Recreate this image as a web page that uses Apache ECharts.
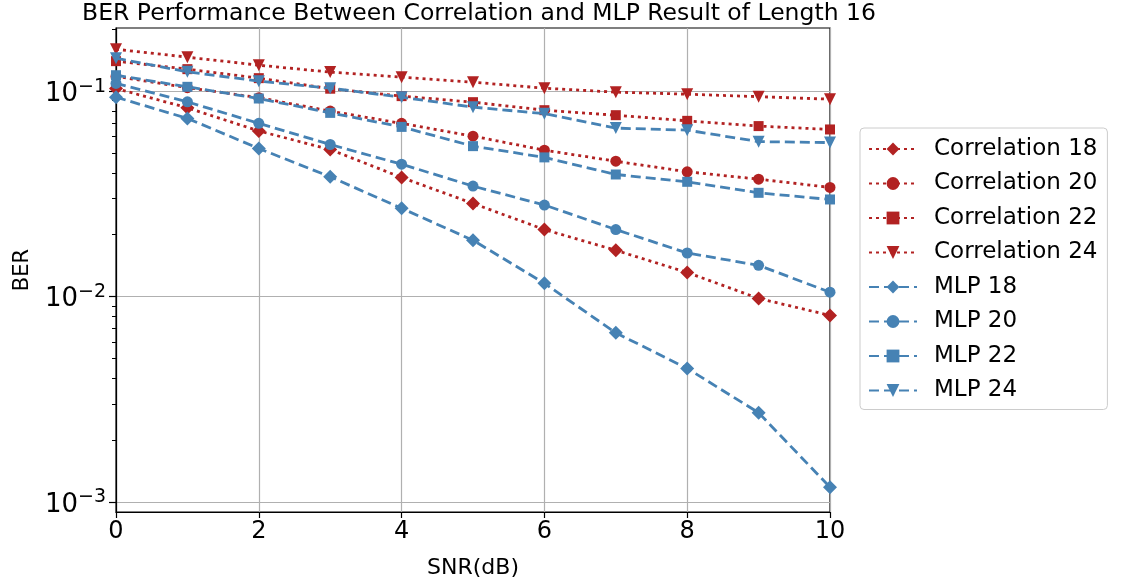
<!DOCTYPE html>
<html>
<head>
<meta charset="utf-8">
<script src="https://cdn.jsdelivr.net/npm/echarts@6/dist/echarts.min.js"></script>
<style>
  html, body { margin: 0; padding: 0; background: #ffffff; }
  #chart { width: 1124px; height: 584px; }
</style>
</head>
<body>
<div id="chart"></div>
<script>
// ---- data ----
const snr = [0, 1, 2, 3, 4, 5, 6, 7, 8, 9, 10];
const corr18 = [0.103, 0.083, 0.064, 0.052, 0.038, 0.0284, 0.0212, 0.0168, 0.0131, 0.0098, 0.0081];
const corr20 = [0.118, 0.104, 0.093, 0.080, 0.0697, 0.0604, 0.0516, 0.0456, 0.0405, 0.0373, 0.0340];
const corr22 = [0.140, 0.128, 0.1157, 0.1028, 0.0946, 0.0884, 0.0808, 0.0764, 0.0717, 0.0676, 0.0651];
const corr24 = [0.160, 0.1464, 0.1338, 0.1238, 0.1170, 0.1106, 0.1034, 0.0989, 0.0967, 0.0940, 0.0914];
const mlp18 = [0.0935, 0.0737, 0.0526, 0.0383, 0.0269, 0.0188, 0.0116, 0.00666, 0.00447, 0.00272, 0.00118];
const mlp20 = [0.109, 0.0887, 0.0697, 0.0550, 0.0441, 0.0345, 0.0279, 0.0212, 0.0163, 0.0142, 0.0105];
const mlp22 = [0.1196, 0.1050, 0.0921, 0.0784, 0.0670, 0.0540, 0.0476, 0.0393, 0.0362, 0.0320, 0.0297];
const mlp24 = [0.1447, 0.1242, 0.1119, 0.1034, 0.0935, 0.0836, 0.0777, 0.0661, 0.0646, 0.0568, 0.0562];

const seriesNames = ['Correlation 18', 'Correlation 20', 'Correlation 22', 'Correlation 24',
                     'MLP 18', 'MLP 20', 'MLP 22', 'MLP 24'];
const seriesData = [corr18, corr20, corr22, corr24, mlp18, mlp20, mlp22, mlp24];

const xTicks = [0, 2, 4, 6, 8, 10];
const yMajorTicks = [0.001, 0.01, 0.1];
const yMinorTicks = [0.002, 0.003, 0.004, 0.005, 0.006, 0.007, 0.008, 0.009,
                     0.02, 0.03, 0.04, 0.05, 0.06, 0.07, 0.08, 0.09, 0.2];
const yMin = 0.000894, yMax = 0.203;

// ---- styles ----
const RED = '#b22222', BLUE = '#4682b4';
const symbols = ['diamond', 'circle', 'rect', 'triangle'];
const symbolSizes = [14, 11, 10, 12];
const symbolRot = [0, 0, 0, 180];
const FONT = 'DejaVu Sans';

const series = seriesData.map((d, i) => {
  const isCorr = i < 4;
  const k = i % 4;
  return {
    name: seriesNames[i],
    type: 'line',
    data: snr.map((x, j) => [x, d[j]]),
    symbol: symbols[k],
    symbolSize: symbolSizes[k],
    symbolRotate: symbolRot[k],
    showAllSymbol: true,
    itemStyle: { color: isCorr ? RED : BLUE },
    lineStyle: {
      color: isCorr ? RED : BLUE,
      width: 2.8,
      type: isCorr ? [3, 4] : [10, 5]
    },
    emphasis: { disabled: true },
    animation: false,
    z: isCorr ? 2 : 3
  };
});

function supLabel(v) {
  const e = Math.round(Math.log10(v));
  if (Math.abs(Math.log10(v) - e) > 1e-6) return '';
  return '{b|10}{s|\u2212' + (-e) + '}';
}

const chart = echarts.init(document.getElementById('chart'), null, { renderer: 'canvas' });
chart.setOption({
  animation: false,
  backgroundColor: '#ffffff',
  title: {
    text: 'BER Performance Between Correlation and MLP Result of Length 16',
    left: 474, top: -3, textAlign: 'center',
    textStyle: { fontFamily: FONT, fontSize: 23.5, fontWeight: 'normal', color: '#000' }
  },
  grid: {
    left: 116, right: 294, top: 28, bottom: 72,
    show: true, borderColor: '#000', borderWidth: 1.2, backgroundColor: 'transparent'
  },
  legend: {
    orient: 'vertical',
    left: 860, top: 128,
    data: seriesNames,
    itemWidth: 48, itemHeight: 16, itemGap: 10.5,
    padding: [9, 10, 7, 8],
    borderColor: '#cccccc', borderWidth: 1, borderRadius: 4,
    backgroundColor: '#ffffff',
    textStyle: { fontFamily: FONT, fontSize: 23, color: '#000', lineHeight: 24, padding: [0, 0, 0, 12] }
  },
  xAxis: {
    type: 'value', min: 0, max: 10, interval: 2,
    name: 'SNR(dB)', nameLocation: 'middle', nameGap: 45,
    nameTextStyle: { fontFamily: FONT, fontSize: 22, color: '#000' },
    axisLine: { show: true, onZero: false, lineStyle: { color: '#000', width: 1.2 } },
    axisTick: { show: true, length: 6, lineStyle: { color: '#000', width: 1.2 } },
    axisLabel: { fontFamily: FONT, fontSize: 24, color: '#000', margin: 8 },
    splitLine: { show: true, lineStyle: { color: '#b0b0b0', width: 1.2 } }
  },
  yAxis: [{
    type: 'log', logBase: 10, min: yMin, max: yMax,
    name: 'BER', nameLocation: 'middle', nameGap: 83, nameRotate: 90,
    nameTextStyle: { fontFamily: FONT, fontSize: 21, color: '#000' },
    axisLine: { show: true, onZero: false, lineStyle: { color: '#000', width: 1.2 } },
    axisTick: { show: true, length: 7, customValues: yMajorTicks, lineStyle: { color: '#000', width: 1.2 } },
    axisLabel: {
      customValues: yMajorTicks,
      formatter: supLabel, margin: 10,
      padding: [6, 0, 0, 0],
      rich: {
        b: { fontFamily: FONT, fontSize: 26, color: '#000' },
        s: { fontFamily: FONT, fontSize: 19, color: '#000', padding: [0, 0, 15, 0] }
      }
    },
    splitLine: { show: true, lineStyle: { color: '#b0b0b0', width: 1.2 } }
  }, {
    type: 'log', logBase: 10, min: yMin, max: yMax, position: 'left',
    axisLine: { show: false },
    axisTick: { show: true, length: 4, customValues: yMinorTicks, lineStyle: { color: '#000', width: 1 } },
    axisLabel: { show: false },
    splitLine: { show: false }
  }],
  series: series
});
</script>
</body>
</html>
